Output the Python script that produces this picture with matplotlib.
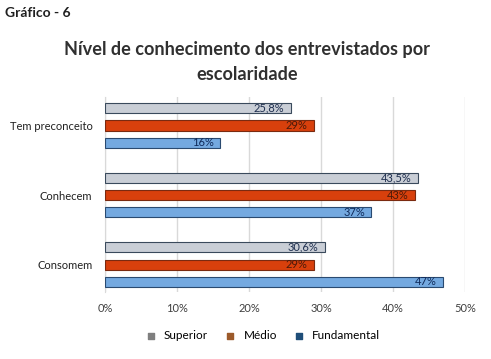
import matplotlib.pyplot as plt
import numpy as np

plt.rcParams['font.family'] = ['Lato', 'DejaVu Sans']

categories = ['Consomem', 'Conhecem', 'Tem preconceito']
superior = [30.6, 43.5, 25.8]
medio = [29, 43, 29]
fundamental = [47, 37, 16]
superior_lbl = ['30,6%', '43,5%', '25,8%']
medio_lbl = ['29%', '43%', '29%']
fundamental_lbl = ['47%', '37%', '16%']
series = ['Superior', 'Médio', 'Fundamental']

fig = plt.figure(figsize=(4.91, 3.59), dpi=100)
ax = fig.add_axes([0.2138, 0.1866, 0.7332, 0.5432])

y = np.arange(len(categories))
h = 0.145
specs = [
    (superior, superior_lbl, 0.25, '#c9ced6', '#3a4a5c', '#1f2f4f', '#7f7f7f'),
    (medio, medio_lbl, 0.0, '#d8400c', '#7a2a10', '#4a1a0a', '#9c5a2a'),
    (fundamental, fundamental_lbl, -0.25, '#74a9e0', '#2a4a70', '#0f2a5a', '#1f4e79'),
]
for (vals, lbls, off, fc, ec, tc, lc), name in zip(specs, series):
    ax.barh(y + off, vals, height=h, color=fc, edgecolor=ec, linewidth=0.8,
            zorder=3)
    for yi, v, t in zip(y + off, vals, lbls):
        ax.text(v - 0.9, yi, t, ha='right', va='center', fontsize=8,
                color=tc, zorder=4)
    ax.scatter([], [], marker='s', s=22, color=lc, label=name)

ax.set_xlim(0, 50)
ax.set_ylim(-0.395, 2.41)
ax.set_xticks(np.arange(0, 51, 10))
ax.set_xticklabels([f'{v}%' for v in range(0, 51, 10)], fontsize=8,
                   color='#404040')
ax.set_yticks(y)
ax.set_yticklabels(categories, fontsize=8, color='#202020')
ax.tick_params(axis='y', length=0, pad=9)
ax.tick_params(axis='x', length=0, pad=8)
ax.grid(axis='x', color='#d9d9d9', linewidth=1, zorder=0)
for s in ax.spines.values():
    s.set_visible(False)
ax.spines['left'].set_visible(True)
ax.spines['left'].set_color('#d9d9d9')

ax.legend(loc='upper center', bbox_to_anchor=(0.43, -0.14), ncol=3,
          frameon=False, fontsize=8.5, handletextpad=0.1, columnspacing=0.9)

fig.text(0.01, 0.965, 'Gráfico - 6', fontsize=10, fontweight='bold',
         color='#202020', va='center')
fig.text(0.503, 0.862, 'Nível de conhecimento dos entrevistados por',
         fontsize=13.1, fontweight='bold', color='#303030', ha='center',
         va='center')
fig.text(0.503, 0.792, 'escolaridade', fontsize=13.1, fontweight='bold',
         color='#303030', ha='center', va='center')

fig.savefig('out.png', dpi=100)
